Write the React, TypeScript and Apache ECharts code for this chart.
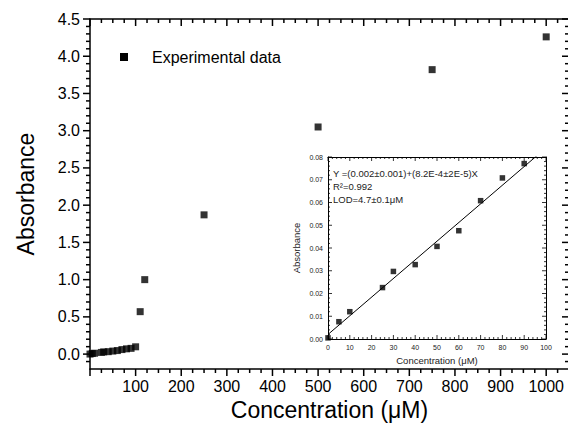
import React, { useEffect, useRef } from "react";
import * as echarts from "echarts";

// Main data (full range)
const concMain = [0, 5, 10, 25, 30, 40, 50, 60, 70, 80, 90, 100, 110, 120, 250, 500, 750, 1000];
const absMain = [0.0005, 0.0076, 0.012, 0.0226, 0.0297, 0.0327, 0.0407, 0.0476, 0.0608, 0.0708, 0.0771, 0.098, 0.57, 1.0, 1.87, 3.05, 3.82, 4.26];

// Inset (linear range)
const concLinear = [0, 5, 10, 25, 30, 40, 50, 60, 70, 80, 90];
const absLinear = [0.0005, 0.0076, 0.012, 0.0226, 0.0297, 0.0327, 0.0407, 0.0476, 0.0608, 0.0708, 0.0771];

// Fit line (from equation shown)
const fitIntercept = 0.002;
const fitSlope = 0.00082;
const fitX = [0, 100];

// Axis ranges and tick steps
const mainXRange = [0, 1050];
const mainYRange = [-0.2, 4.5];
const insetXRange = [0, 100];
const insetYRange = [0, 0.08];
const mainXTickStep = [100, 25]; // major, minor
const mainYTickStep = [0.5, 0.1];
const insetXTickStep = [10, 2];
const insetYTickStep = [0.01, 0.002];

const seriesName = "Experimental data";
const fitTexts = ["Y =(0.002\u00b10.001)+(8.2E-4\u00b12E-5)X", "R\u00b2=0.992", "LOD=4.7\u00b10.1\u03bcM"];
const FONT = "Liberation Sans, Arial, sans-serif";

function tickList(range: number[], step: number[]) {
  const out: number[][] = [];
  const n = Math.floor((range[1] - range[0]) / step[1] + 1e-6);
  const start = Math.ceil(range[0] / step[1] - 1e-6);
  for (let k = start; k <= start + n; k++) {
    const v = Math.round(k * step[1] * 1e6) / 1e6;
    if (v < range[0] - 1e-9 || v > range[1] + 1e-9) continue;
    const r = v / step[0];
    const major = Math.abs(r - Math.round(r)) < 1e-6 ? 1 : 0;
    out.push([v, major]);
  }
  return out;
}

function mkLine(w: number) {
  return { show: true, onZero: false, lineStyle: { color: "#000", width: w } };
}

function tickSeries(
  axis: "x" | "y",
  xi: number,
  yi: number,
  xr: number[],
  yr: number[],
  ticks: number[][],
  dirA: number,
  dirB: number,
  lenMajor: number,
  lenMinor: number,
  w: number
) {
  const data = axis === "x" ? ticks.map((t) => [t[0], t[1]]) : ticks.map((t) => [t[1], t[0]]);
  return {
    type: "custom",
    xAxisIndex: xi,
    yAxisIndex: yi,
    silent: true,
    clip: false,
    z: 10,
    data,
    renderItem: (_p: any, api: any) => {
      if (axis === "x") {
        const v = api.value(0);
        const len = api.value(1) === 1 ? lenMajor : lenMinor;
        const pb = api.coord([v, yr[0]]);
        const pt = api.coord([v, yr[1]]);
        return {
          type: "group",
          children: [
            { type: "line", shape: { x1: pb[0], y1: pb[1], x2: pb[0], y2: pb[1] + dirA * len }, style: { stroke: "#000", lineWidth: w } },
            { type: "line", shape: { x1: pt[0], y1: pt[1], x2: pt[0], y2: pt[1] + dirB * len }, style: { stroke: "#000", lineWidth: w } },
          ],
        };
      }
      const v = api.value(1);
      const len = api.value(0) === 1 ? lenMajor : lenMinor;
      const pl = api.coord([xr[0], v]);
      const pr = api.coord([xr[1], v]);
      return {
        type: "group",
        children: [
          { type: "line", shape: { x1: pl[0], y1: pl[1], x2: pl[0] + dirA * len, y2: pl[1] }, style: { stroke: "#000", lineWidth: w } },
          { type: "line", shape: { x1: pr[0], y1: pr[1], x2: pr[0] + dirB * len, y2: pr[1] }, style: { stroke: "#000", lineWidth: w } },
        ],
      };
    },
  };
}

export default function App() {
  const ref = useRef<HTMLDivElement>(null);
  useEffect(() => {
    if (!ref.current) return;
    const chart = echarts.init(ref.current, null, { renderer: "svg" });

    const noTick = { show: false };
    const option: any = {
      animation: false,
      backgroundColor: "#fff",
      textStyle: { fontFamily: FONT },
      grid: [
        { left: 90, top: 19, width: 479, height: 350, outerBoundsMode: "none", show: false },
        { left: 328, top: 157, width: 218, height: 182, outerBoundsMode: "none", show: true, backgroundColor: "#fff", borderWidth: 0 },
      ],
      xAxis: [
        {
          type: "value", min: mainXRange[0], max: mainXRange[1], interval: mainXTickStep[0], gridIndex: 0, position: "bottom",
          axisLine: mkLine(1.5), axisTick: noTick, minorTick: noTick, splitLine: { show: false },
          axisLabel: {
            fontSize: 16, color: "#000", fontFamily: FONT, margin: 9,
            formatter: (v: number) => (v === 0 || v > 1000 ? "" : String(v)),
          },
          name: "Concentration (\u03bcM)", nameLocation: "middle", nameGap: 28,
          nameTextStyle: { fontSize: 23, color: "#000", fontFamily: FONT },
        },
        {
          type: "value", min: mainXRange[0], max: mainXRange[1], interval: mainXTickStep[0], gridIndex: 0, position: "top",
          axisLine: mkLine(1.5), axisTick: noTick, minorTick: noTick, splitLine: { show: false },
          axisLabel: { show: false },
        },
        {
          type: "value", min: insetXRange[0], max: insetXRange[1], interval: insetXTickStep[0], gridIndex: 1, position: "bottom",
          axisLine: mkLine(1), axisTick: noTick, minorTick: noTick, splitLine: { show: false },
          axisLabel: { fontSize: 7, color: "#222", fontFamily: FONT, margin: 5 },
          name: "Concentration (\u03bcM)", nameLocation: "middle", nameGap: 16,
          nameTextStyle: { fontSize: 9.5, color: "#222", fontFamily: FONT },
        },
        {
          type: "value", min: insetXRange[0], max: insetXRange[1], interval: insetXTickStep[0], gridIndex: 1, position: "top",
          axisLine: mkLine(1), axisTick: noTick, minorTick: noTick, splitLine: { show: false },
          axisLabel: { show: false },
        },
      ],
      yAxis: [
        {
          type: "value", min: mainYRange[0], max: mainYRange[1], splitNumber: 9, gridIndex: 0, position: "left",
          axisLine: mkLine(1.5), axisTick: noTick, minorTick: noTick, splitLine: { show: false },
          axisLabel: {
            fontSize: 16, color: "#000", fontFamily: FONT, margin: 10,
            formatter: (v: number) => (v < -0.01 ? "" : v.toFixed(1)),
          },
          name: "Absorbance", nameLocation: "middle", nameGap: 53,
          nameTextStyle: { fontSize: 23, color: "#000", fontFamily: FONT },
        },
        {
          type: "value", min: mainYRange[0], max: mainYRange[1], splitNumber: 9, gridIndex: 0, position: "right",
          axisLine: mkLine(1.5), axisTick: noTick, minorTick: noTick, splitLine: { show: false },
          axisLabel: { show: false },
        },
        {
          type: "value", min: insetYRange[0], max: insetYRange[1], interval: insetYTickStep[0], gridIndex: 1, position: "left",
          axisLine: mkLine(1), axisTick: noTick, minorTick: noTick, splitLine: { show: false },
          axisLabel: {
            fontSize: 7, color: "#222", fontFamily: FONT, margin: 5,
            formatter: (v: number) => v.toFixed(2),
          },
          name: "Absorbance", nameLocation: "middle", nameGap: 27,
          nameTextStyle: { fontSize: 9.5, color: "#222", fontFamily: FONT },
        },
        {
          type: "value", min: insetYRange[0], max: insetYRange[1], interval: insetYTickStep[0], gridIndex: 1, position: "right",
          axisLine: mkLine(1), axisTick: noTick, minorTick: noTick, splitLine: { show: false },
          axisLabel: { show: false },
        },
      ],
      graphic: [
        { type: "rect", x: 120, y: 53, shape: { x: 0, y: 0, width: 8, height: 8 }, style: { fill: "#000" }, z: 100 },
        {
          type: "text", x: 152, y: 57, z: 100,
          style: { text: seriesName, fontSize: 16, fontFamily: FONT, fill: "#000", verticalAlign: "middle" },
        },
        {
          type: "text", x: 333, y: 173, z: 100,
          style: { text: fitTexts[0], fontSize: 9.5, fontFamily: FONT, fill: "#222", verticalAlign: "middle" },
        },
        {
          type: "text", x: 333, y: 186, z: 100,
          style: { text: fitTexts[1], fontSize: 9.5, fontFamily: FONT, fill: "#222", verticalAlign: "middle" },
        },
        {
          type: "text", x: 333, y: 199, z: 100,
          style: { text: fitTexts[2], fontSize: 9.5, fontFamily: FONT, fill: "#222", verticalAlign: "middle" },
        },
      ],
      series: [
        {
          name: seriesName, type: "scatter", xAxisIndex: 0, yAxisIndex: 0, symbol: "rect", symbolSize: 7,
          itemStyle: { color: "#000" }, data: concMain.map((c, i) => [c, absMain[i]]),
        },
        {
          name: "Linear fit", type: "line", xAxisIndex: 2, yAxisIndex: 2, showSymbol: false, symbol: "none",
          clip: true, lineStyle: { color: "#000", width: 1 }, z: 3,
          data: fitX.map((x) => [x, fitIntercept + fitSlope * x]),
        },
        {
          name: "Inset data", type: "scatter", xAxisIndex: 2, yAxisIndex: 2, symbol: "rect", symbolSize: 5.5,
          clip: false, itemStyle: { color: "#000" }, z: 4,
          data: concLinear.map((c, i) => [c, absLinear[i]]),
        },
        tickSeries("x", 0, 0, mainXRange, mainYRange, tickList([0, 1050], mainXTickStep), 1, 1, 7, 4, 1.5),
        tickSeries("y", 0, 0, mainXRange, mainYRange, tickList([-0.1, 4.5], mainYTickStep), -1, -1, 7, 4, 1.5),
        tickSeries("x", 2, 2, insetXRange, insetYRange, tickList(insetXRange, insetXTickStep), -1, 1, 4, 2, 0.8),
        tickSeries("y", 2, 2, insetXRange, insetYRange, tickList(insetYRange, insetYTickStep), 1, -1, 4, 2, 0.8),
      ],
    };
    chart.setOption(option);
    return () => chart.dispose();
  }, []);
  return (
    <div ref={ref} style={{ position: "fixed", left: 0, top: 0, width: 568, height: 432, background: "#fff" }} />
  );
}
